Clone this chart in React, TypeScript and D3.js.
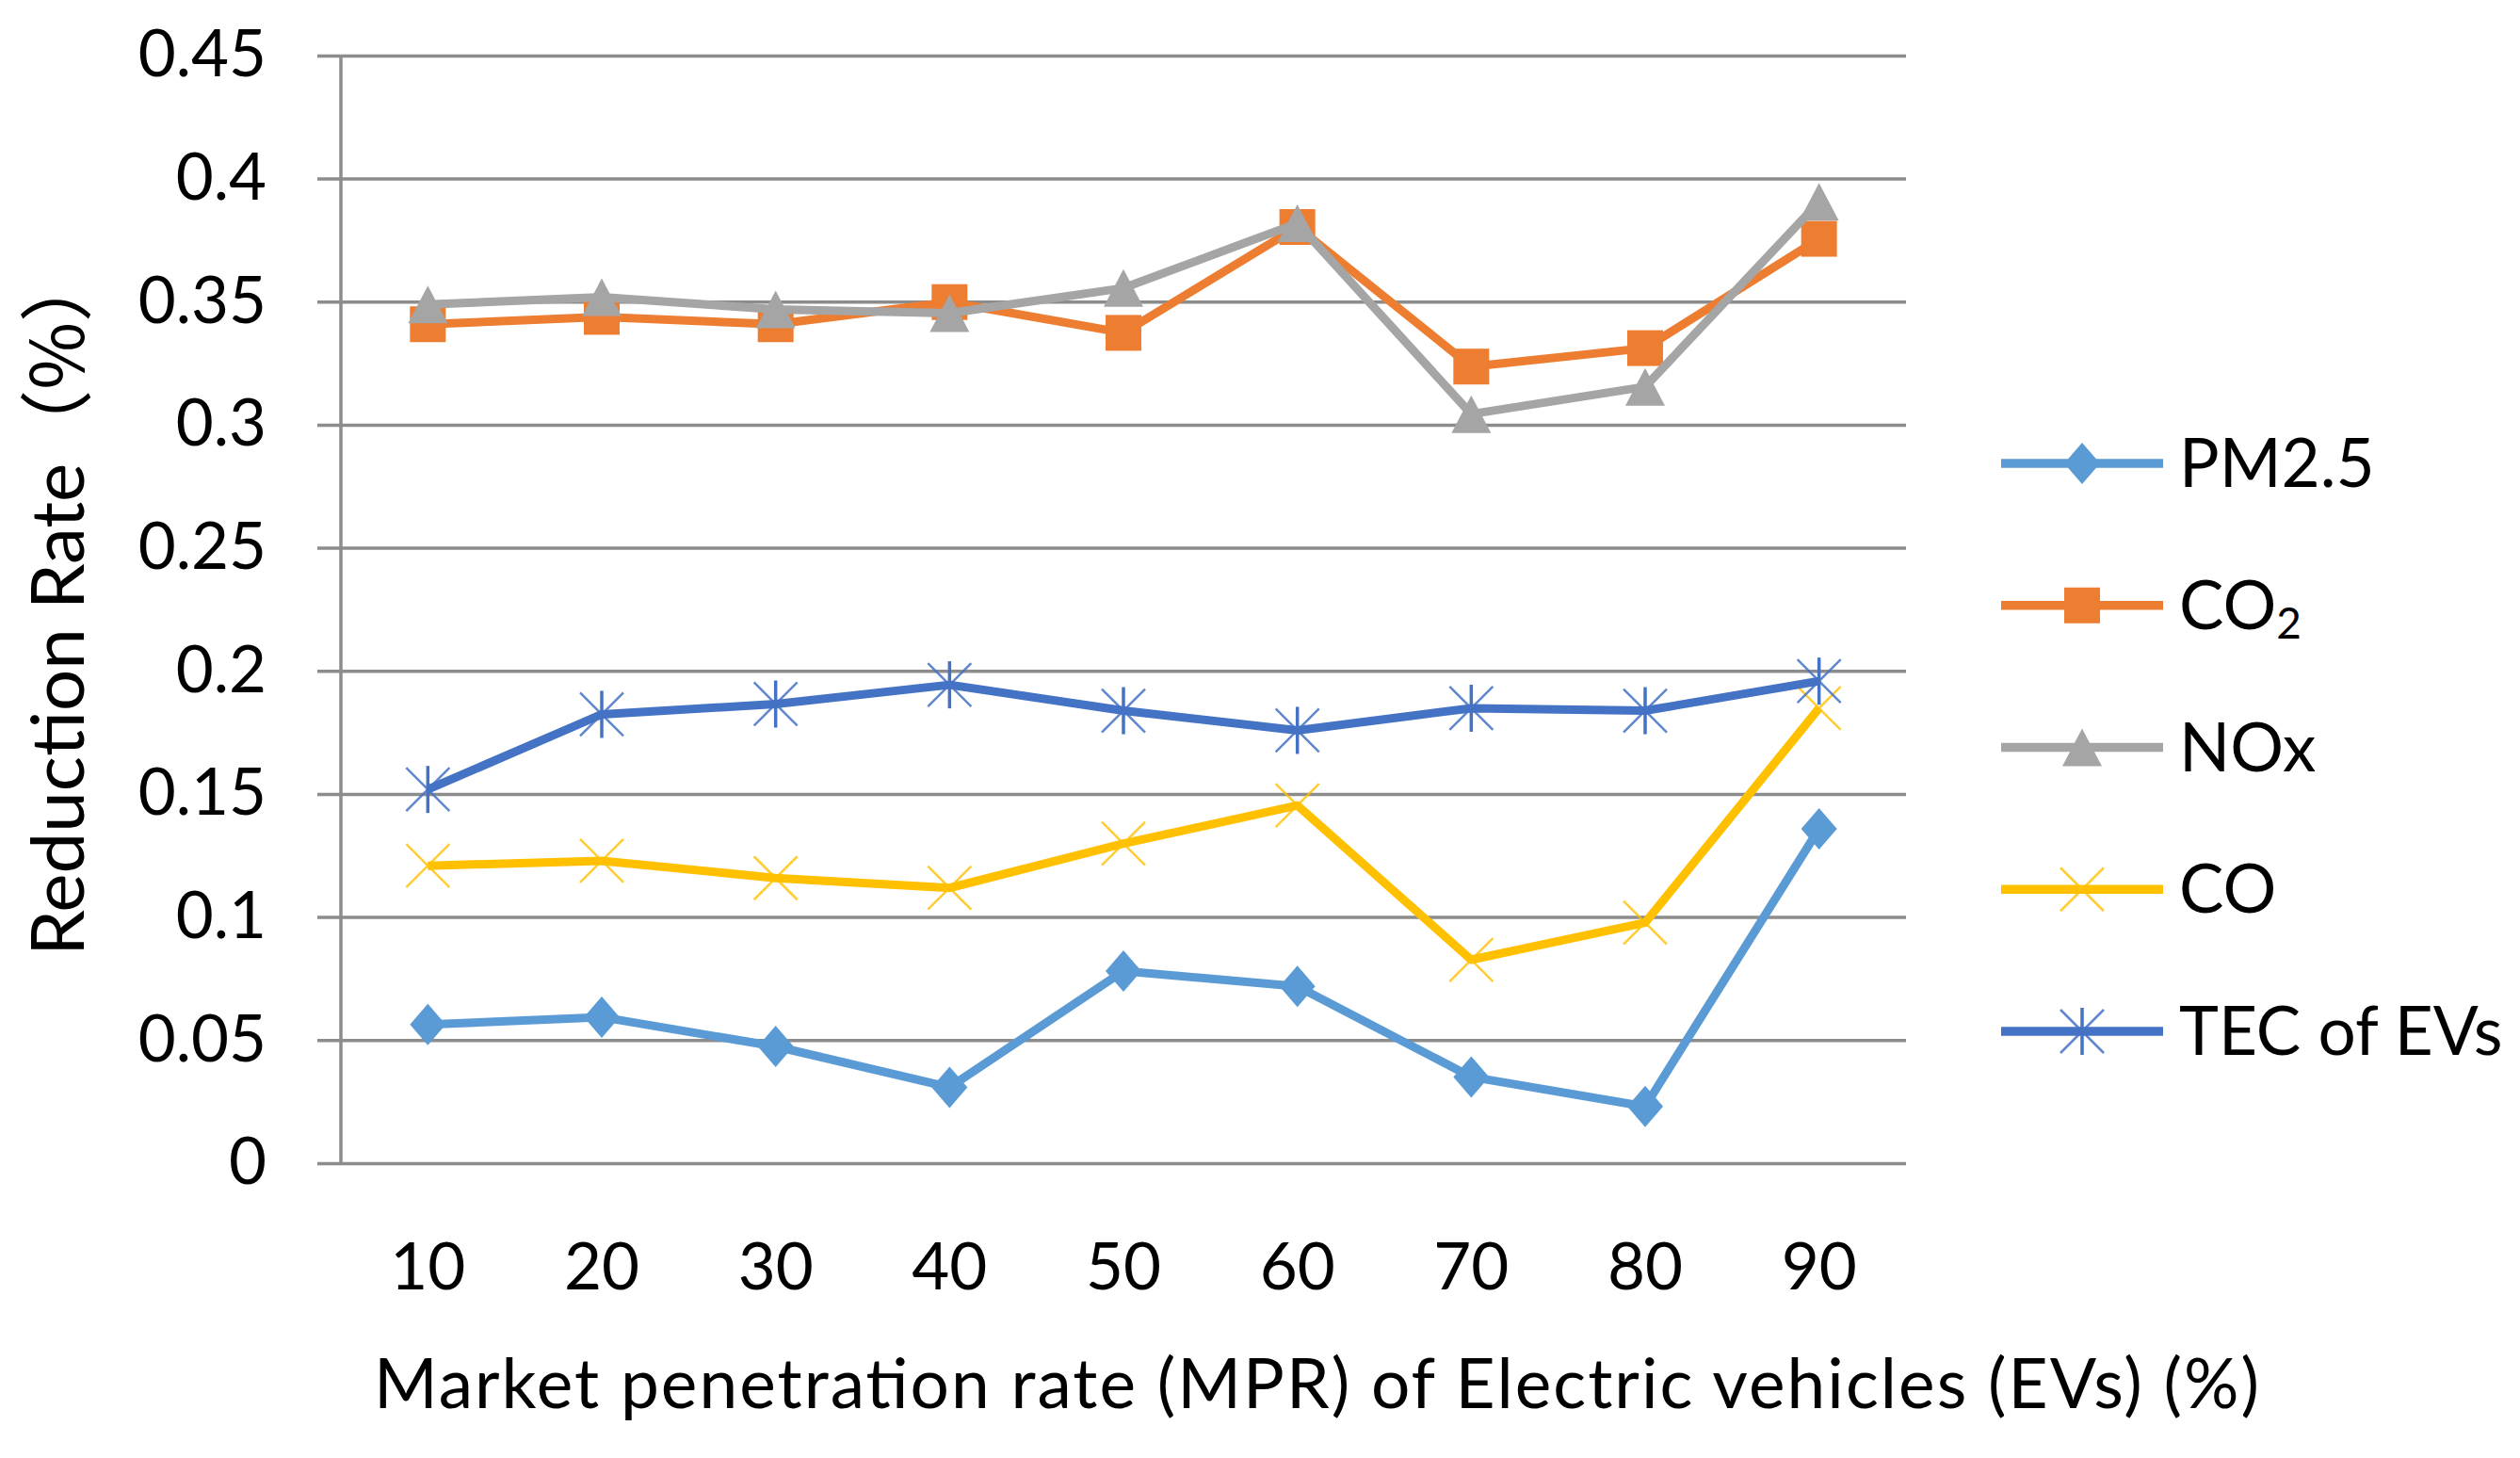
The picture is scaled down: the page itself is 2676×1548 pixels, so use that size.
import React from "react";
import * as d3 from "d3";

const categories = ["10", "20", "30", "40", "50", "60", "70", "80", "90"];
const pm25 = [0.0565, 0.0595, 0.0476, 0.031, 0.0782, 0.072, 0.0352, 0.0232, 0.136];
const co2 = [0.341, 0.344, 0.341, 0.35, 0.3375, 0.3805, 0.3238, 0.3313, 0.3757];
const nox = [0.349, 0.352, 0.347, 0.3455, 0.3557, 0.382, 0.3045, 0.3156, 0.3907];
const co = [0.121, 0.123, 0.116, 0.112, 0.13, 0.1455, 0.0828, 0.0979, 0.185];
const tec = [0.152, 0.1825, 0.1867, 0.1945, 0.184, 0.176, 0.185, 0.184, 0.196];
const yTicks = [0, 0.05, 0.1, 0.15, 0.2, 0.25, 0.3, 0.35, 0.4, 0.45];

const W = 2676;
const H = 1548;
const FONT = "Lato, 'Open Sans', sans-serif";

type MarkerKind = "diamond" | "square" | "triangle" | "x" | "star";
const series: { name: string; values: number[]; color: string; marker: MarkerKind }[] = [
  { name: "PM2.5", values: pm25, color: "#5B9BD5", marker: "diamond" },
  { name: "CO2", values: co2, color: "#ED7D31", marker: "square" },
  { name: "NOx", values: nox, color: "#A5A5A5", marker: "triangle" },
  { name: "CO", values: co, color: "#FFC000", marker: "x" },
  { name: "TEC of EVs", values: tec, color: "#4472C4", marker: "star" },
];

function Marker({ kind, x, y, color }: { kind: MarkerKind; x: number; y: number; color: string }) {
  if (kind === "diamond") {
    const w = 19, h = 22;
    return <path d={`M${x},${y - h}L${x + w},${y}L${x},${y + h}L${x - w},${y}Z`} fill={color} />;
  }
  if (kind === "square") {
    const s = 19;
    return <rect x={x - s} y={y - s} width={2 * s} height={2 * s} fill={color} />;
  }
  if (kind === "triangle") {
    const w = 21, h = 20;
    return <path d={`M${x},${y - h}L${x + w},${y + h}L${x - w},${y + h}Z`} fill={color} />;
  }
  const s = 23;
  if (kind === "x") {
    return (
      <path
        d={`M${x - s},${y - s}L${x + s},${y + s}M${x - s},${y + s}L${x + s},${y - s}`}
        stroke={color}
        strokeWidth={2.5}
        strokeOpacity={0.8}
        fill="none"
      />
    );
  }
  return (
    <g>
      <path
        d={`M${x - s},${y - s}L${x + s},${y + s}M${x - s},${y + s}L${x + s},${y - s}`}
        stroke={color}
        strokeWidth={2.5}
        strokeOpacity={0.85}
        fill="none"
      />
      <path d={`M${x},${y - s - 2}L${x},${y + s + 2}`} stroke={color} strokeWidth={3.5} fill="none" />
    </g>
  );
}

export default function App() {
  const x = d3.scalePoint<string>().domain(categories).range([362, 2024]).padding(0.5);
  const y = d3.scaleLinear().domain([0, 0.45]).range([1235.4, 59.4]);
  const line = d3
    .line<number>()
    .x((_, i) => x(categories[i]) as number)
    .y((d) => y(d));

  const legendX0 = 2125;
  const legendX1 = 2297;
  const legendMid = 2211;
  const legendY = d3.scaleLinear().domain([0, 4]).range([492, 1095]);

  return (
    <svg
      width={W}
      height={H}
      viewBox={`0 0 ${W} ${H}`}
      style={{ position: "absolute", left: 0, top: 0, background: "#fff" }}
      fontFamily={FONT}
    >
      <rect x={0} y={0} width={W} height={H} fill="#fff" />
      {/* gridlines */}
      {yTicks.map((t) => (
        <line key={t} x1={337} x2={2024} y1={y(t)} y2={y(t)} stroke="#8C8C8C" strokeWidth={3.5} />
      ))}
      <line x1={362} x2={362} y1={y(0.45)} y2={y(0)} stroke="#8C8C8C" strokeWidth={3.5} />
      {/* y tick labels */}
      {yTicks.map((t) => (
        <text key={t} x={283} y={y(t) + 22} textAnchor="end" fontSize={69} fill="#000">
          {String(t)}
        </text>
      ))}
      {/* x tick labels */}
      {categories.map((c) => (
        <text key={c} x={x(c) as number} y={1369} textAnchor="middle" fontSize={69} fill="#000">
          {c}
        </text>
      ))}
      {/* axis titles */}
      <text x={397} y={1495} fontSize={73} fill="#000" textLength={2002} lengthAdjust="spacing">
        Market penetration rate (MPR) of Electric vehicles (EVs) (%)
      </text>
      <text transform={`translate(89,1015) rotate(-90)`} textAnchor="start" fontSize={78} fill="#000">
        Reduction Rate
        <tspan fontFamily="'Noto Sans CJK SC', sans-serif">（%）</tspan>
      </text>
      {/* series */}
      {series.map((s) => (
        <g key={s.name}>
          <path d={line(s.values) || ""} fill="none" stroke={s.color} strokeWidth={9} strokeLinejoin="round" />
          {s.values.map((v, i) => (
            <Marker key={i} kind={s.marker} x={x(categories[i]) as number} y={y(v)} color={s.color} />
          ))}
        </g>
      ))}
      {/* legend */}
      {series.map((s, i) => {
        const ly = legendY(i);
        return (
          <g key={s.name}>
            <line x1={legendX0} x2={legendX1} y1={ly} y2={ly} stroke={s.color} strokeWidth={9.5} />
            <Marker kind={s.marker} x={legendMid} y={ly} color={s.color} />
            <text x={2314} y={ly + 25} fontSize={71} fill="#000">
              {s.name === "CO2" ? (
                <>
                  CO
                  <tspan fontSize={46} dy={10}>2</tspan>
                </>
              ) : (
                s.name
              )}
            </text>
          </g>
        );
      })}
    </svg>
  );
}
